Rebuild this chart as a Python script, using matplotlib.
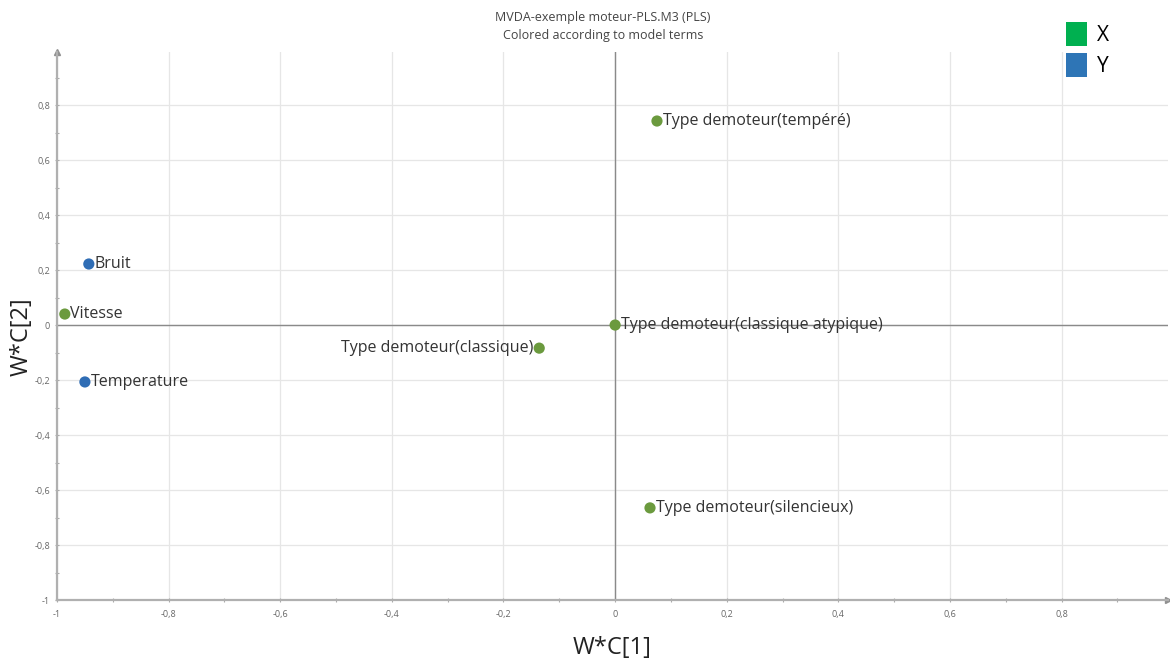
import matplotlib
matplotlib.use("Agg")
import matplotlib.pyplot as plt
from matplotlib.patches import Patch
from matplotlib.ticker import MultipleLocator

# Data
labels = ["Type demoteur(tempéré)", "Bruit", "Vitesse", "Type demoteur(classique atypique)",
          "Type demoteur(classique)", "Temperature", "Type demoteur(silencieux)"]
x_vals = [0.075, -0.943, -0.986, 0.0, -0.136, -0.950, 0.0625]
y_vals = [0.742, 0.222, 0.040, 0.0, -0.084, -0.207, -0.665]
terms = ["X", "Y", "X", "X", "X", "Y", "X"]
label_side = ["right", "right", "right", "right", "left", "right", "right"]

x_ticks = [-1, -0.8, -0.6, -0.4, -0.2, 0, 0.2, 0.4, 0.6, 0.8]
x_tick_labels = ["-1", "-0,8", "-0,6", "-0,4", "-0,2", "0", "0,2", "0,4", "0,6", "0,8"]
y_ticks = [-1, -0.8, -0.6, -0.4, -0.2, 0, 0.2, 0.4, 0.6, 0.8]
y_tick_labels = ["-1", "-0,8", "-0,6", "-0,4", "-0,2", "0", "0,2", "0,4", "0,6", "0,8"]

point_colors = {"X": "#6b9a3e", "Y": "#2f6db5"}
legend_colors = {"X": "#00b050", "Y": "#2e75b6"}

plt.rcParams['font.family'] = ['Open Sans', 'DejaVu Sans']

fig = plt.figure(figsize=(11.7, 6.62), dpi=100)
ax = fig.add_axes([57/1170, 1 - 600/662, 1 - 57/1170 - 0.002, (600 - 52)/662])
ax.set_xlim(-1, 0.99)
ax.set_ylim(-1, 0.993)

# grid
ax.set_xticks(x_ticks)
ax.set_xticklabels(x_tick_labels)
ax.set_yticks(y_ticks)
ax.set_yticklabels(y_tick_labels)
ax.xaxis.set_minor_locator(MultipleLocator(0.1))
ax.yaxis.set_minor_locator(MultipleLocator(0.1))
ax.grid(True, which="major", color="#e6e6e6", linewidth=0.9)
ax.set_axisbelow(True)
ax.tick_params(which="both", axis="both", colors="#aaaaaa", labelcolor="#666666",
               labelsize=6.5, length=3, width=0.8, direction="inout")
ax.tick_params(which="major", axis="x", pad=6)

for s in ["top", "right"]:
    ax.spines[s].set_visible(False)
for s in ["left", "bottom"]:
    ax.spines[s].set_color("#b0b0b0")
    ax.spines[s].set_linewidth(1.6)

# axis arrows
ax.plot(0.99, -1, ">", color="#909090", markersize=5, clip_on=False)
ax.plot(-1, 0.993, "^", color="#909090", markersize=5, clip_on=False)

# zero lines
ax.axhline(0, color="#8a8a8a", linewidth=1.0, zorder=1)
ax.axvline(0, color="#8a8a8a", linewidth=1.0, zorder=1)

# points
for xv, yv, lab, t, side in zip(x_vals, y_vals, labels, terms, label_side):
    ax.scatter([xv], [yv], s=65, color=point_colors[t], zorder=3, edgecolors="none")
    if side == "right":
        ax.annotate(lab, (xv, yv), xytext=(4, 0), textcoords="offset points",
                    ha="left", va="center", fontsize=11.5, color="#333333")
    else:
        ax.annotate(lab, (xv, yv), xytext=(-4, 0), textcoords="offset points",
                    ha="right", va="center", fontsize=11.5, color="#333333")

ax.set_xlabel("W*C[1]", fontsize=17, color="#222222", labelpad=12)
ax.set_ylabel("W*C[2]", fontsize=17, color="#222222")
ax.yaxis.set_label_coords(-0.021, 0.48)

fig.text(603/1170, 1 - 17/662, "MVDA-exemple moteur-PLS.M3 (PLS)", ha="center", va="center",
         fontsize=9, color="#444444")
fig.text(603/1170, 1 - 35/662, "Colored according to model terms", ha="center", va="center",
         fontsize=9, color="#444444")

handles = [Patch(facecolor=legend_colors["X"], edgecolor="none", label="X"),
           Patch(facecolor=legend_colors["Y"], edgecolor="none", label="Y")]
fig.legend(handles=handles, loc="upper left", bbox_to_anchor=(1047/1170, 1 - 3/662),
           frameon=False, fontsize=15, handlelength=1.0, handleheight=1.4,
           handletextpad=0.5, labelspacing=0.35)

fig.savefig("out.png", dpi=100)
